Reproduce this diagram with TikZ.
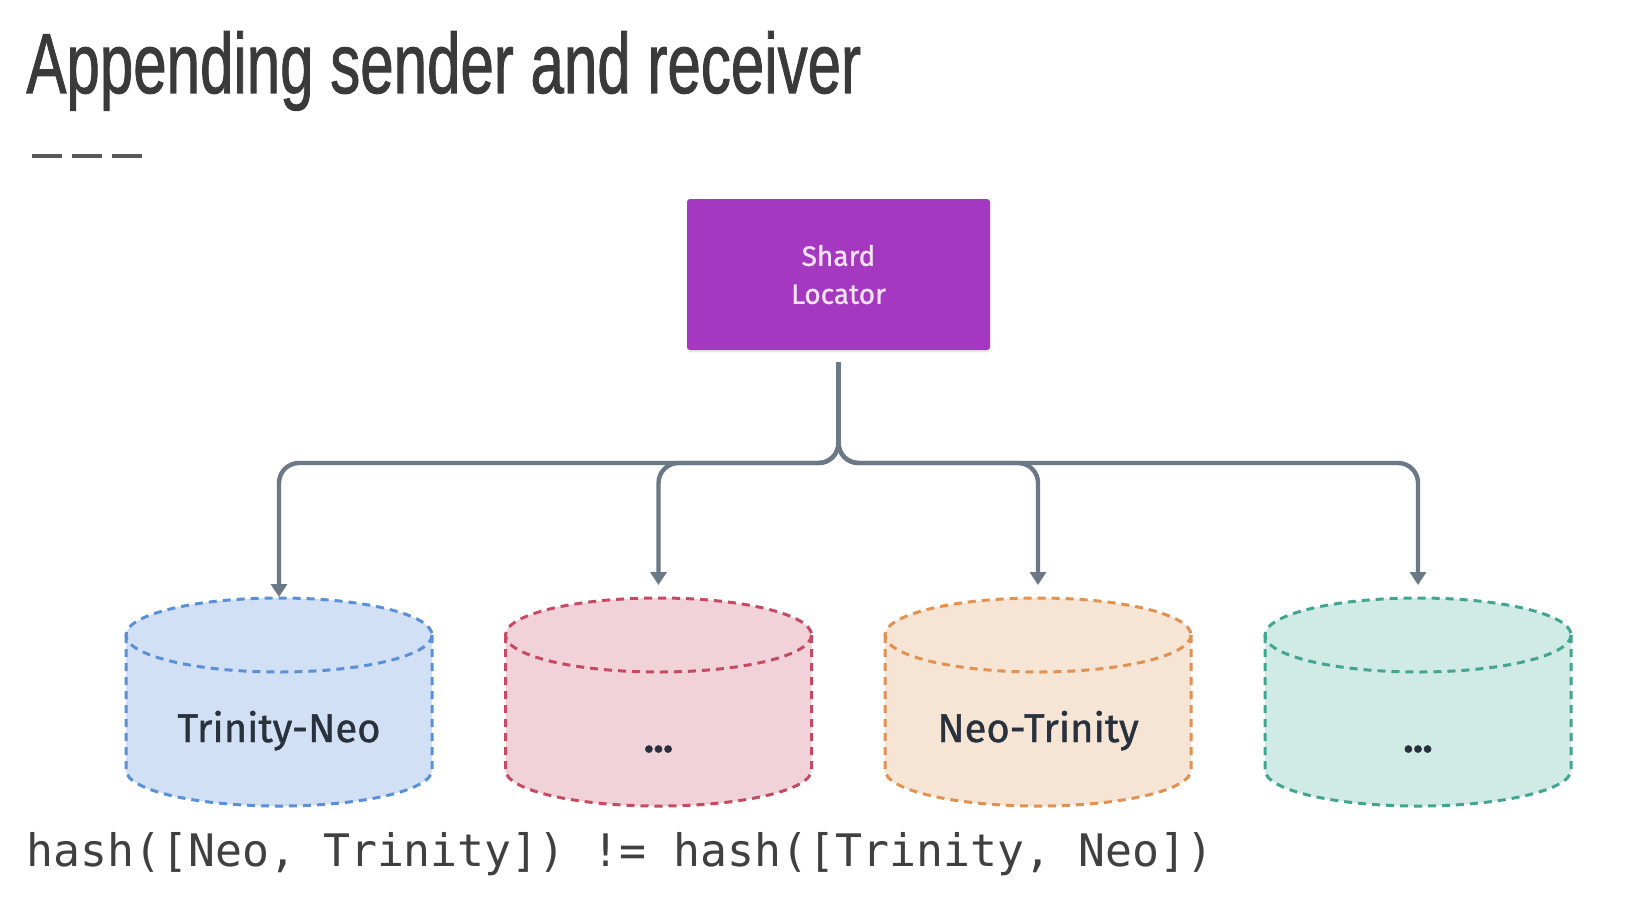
\documentclass[tikz,border=0pt]{standalone}
\usepackage{fontspec}
\usetikzlibrary{arrows.meta,shadows}
\newfontfamily\titlefont[FakeBold=1.3]{Liberation Sans}
\newfontfamily\diagfont[FakeBold=1.0]{Fira Sans}
\newfontfamily\codefont{DejaVu Sans Mono}
\definecolor{titlegray}{HTML}{3A3A3A}
\definecolor{codegray}{HTML}{404040}
\definecolor{locpurple}{HTML}{A438C1}
\definecolor{loctext}{HTML}{F6E2F6}
\definecolor{linegray}{HTML}{6B7886}
\definecolor{dbtext}{HTML}{28313C}
\definecolor{blueF}{HTML}{D1E0F4}\definecolor{blueD}{HTML}{5A90D8}
\definecolor{redF}{HTML}{F1D2D9}\definecolor{redD}{HTML}{C64A62}
\definecolor{orF}{HTML}{F6E4D4}\definecolor{orD}{HTML}{E39150}
\definecolor{tealF}{HTML}{D0EAE5}\definecolor{tealD}{HTML}{42A590}
\tikzset{
  locbox/.style={fill=locpurple, draw=none, rounded corners=1.5pt, minimum width=151.5pt, minimum height=75.5pt,
    text=loctext, align=center, font=\diagfont\fontsize{14}{19}\selectfont,
    drop shadow={opacity=0.18, shadow xshift=0pt, shadow yshift=-1.2pt}},
  conn/.style={draw=linegray, line width=2.2pt, rounded corners=10pt, -{Triangle[width=8pt,length=6.5pt]}},
  dbedge/.style={dashed, dash pattern=on 4pt off 3pt, line width=1.5pt},
  dblabel/.style={text=dbtext, font=\diagfont\fontsize{20}{24}\selectfont, inner sep=0pt, anchor=base},
}
\newcommand{\dbcyl}[3]{%
  \fill[#2] (#1-153,635) -- (#1-153,770) arc[start angle=180,end angle=0,x radius=153,y radius=36]
     -- (#1+153,635) arc[start angle=0,end angle=-180,x radius=153,y radius=37] -- cycle;
  \draw[#3, dbedge] (#1-153,635) -- (#1-153,770) arc[start angle=180,end angle=0,x radius=153,y radius=36]
     -- (#1+153,635);
  \draw[#3, dbedge] (#1,635) ellipse [x radius=153, y radius=37];
}
\begin{document}
\begin{tikzpicture}[x=0.5pt,y=-0.5pt]
\useasboundingbox (0,0) rectangle (1652,904);
% title
\node[anchor=base west, inner sep=0pt, text=titlegray] (title) at (26,93)
  {\scalebox{0.705}[1]{\titlefont\fontsize{42.6}{50}\selectfont Appending sender and receiver}};
\foreach \xx in {32,72,112} {
  \draw[line width=2pt, draw=titlegray!85] (\xx,156) -- ++(30,0);
}
% shard locator
\node[locbox] (loc) at (838.5,274.5) {Shard\\Locator};
% cylinders
\dbcyl{279}{blueF}{blueD}
\dbcyl{658.5}{redF}{redD}
\dbcyl{1038}{orF}{orD}
\dbcyl{1418}{tealF}{tealD}
\coordinate (t1) at (279,597);
\coordinate (t2) at (658.5,585);
\coordinate (t3) at (1038,585);
\coordinate (t4) at (1418,585);
\node[dblabel] (d1) at (279,742) {Trinity-Neo};
\node[dblabel] (d2) at (658.5,752) {\textbf{...}};
\node[dblabel] (d3) at (1038,742) {Neo-Trinity};
\node[dblabel] (d4) at (1418,752) {\textbf{...}};
% connectors
\coordinate (j) at (838.5,463);
\foreach \t in {t1,t2,t3,t4} {
  \draw[conn, shorten <=6pt] (loc.south) -- (j) -- (j -| \t) -- (\t);
}
% code line
\node[anchor=base west, inner sep=0pt, text=codegray] (code) at (26,866)
  {\codefont\fontsize{22.4}{26}\selectfont hash([Neo, Trinity]) != hash([Trinity, Neo])};
\end{tikzpicture}
\end{document}
